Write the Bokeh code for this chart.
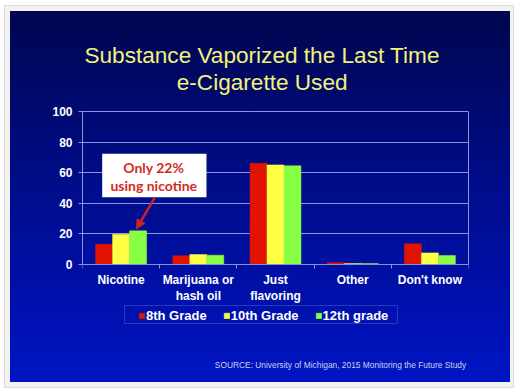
from bokeh.plotting import figure
from bokeh.models import (ColumnDataSource, Range1d, LinearAxis, FixedTicker, Legend, LegendItem,
                          Label, BoxAnnotation, Arrow, NormalHead)
from bokeh.transform import dodge
from bokeh.embed import file_html
from bokeh.resources import INLINE

# ---- data ----
categories = ["Nicotine", "Marijuana or\nhash oil", "Just\nflavoring", "Other", "Don't know"]
grade_8 = [13.2, 5.7, 66.2, 1.2, 13.5]
grade_10 = [19.8, 6.5, 65.1, 0.6, 7.6]
grade_12 = [22.0, 6.1, 64.5, 0.6, 5.9]
series_names = ["8th Grade", "10th Grade", "12th grade"]
y_ticks = [0, 20, 40, 60, 80, 100]
title_lines = ["Substance Vaporized the Last Time", "e-Cigarette Used"]
callout_lines = ["Only 22%", "using nicotine"]
source_text = "SOURCE: University  of Michigan, 2015 Monitoring the Future Study"

# ---- styles ----
series_colors = ["#e01400", "#ffff44", "#88ff44"]
grid_color = "#8c94dc"
FONT = "Liberation Sans"
TITLE_COLOR = "#f2f27a"

n = len(categories)
positions = [i + 0.5 for i in range(n)]
src = ColumnDataSource(dict(pos=positions, cat=categories, g8=grade_8, g10=grade_10, g12=grade_12))

# frame spans the whole slide height; the value axis is bounded to 0..100
p = figure(width=525, height=390,
           x_range=Range1d(0, n), y_range=Range1d(-82.35, 165.36),
           output_backend="svg", toolbar_location=None, x_axis_location=None,
           min_border_left=82, min_border_right=57, min_border_top=11, min_border_bottom=0)

p.background_fill_color = None
p.border_fill_color = None
p.outline_line_color = None
p.styles = {
    "background": (
        "linear-gradient(to bottom, #00064e 0%, #000c88 45%, #0014c4 100%) 10px 11px / 500px 371px no-repeat, "
        "linear-gradient(#f2f2f2, #f2f2f2) 5px 6px / 508px 381px no-repeat, "
        "linear-gradient(#dcdcdc, #dcdcdc) 4px 5px / 510px 383px no-repeat, "
        "#ffffff"
    ),
}

# bars
renderers = []
for field, off, col in zip(["g8", "g10", "g12"], [-0.22, 0.0, 0.22], series_colors):
    r = p.vbar(x=dodge("pos", off), top=field, width=0.22, source=src,
               fill_color=col, line_color=col, line_width=0.5)
    renderers.append(r)

# y axis
ya = p.yaxis[0]
ya.ticker = FixedTicker(ticks=y_ticks)
ya.bounds = (0, 100)
ya.axis_line_color = grid_color
ya.major_tick_line_color = grid_color
ya.major_tick_out = 4
ya.major_tick_in = 0
ya.minor_tick_line_color = None
ya.major_label_text_color = "white"
ya.major_label_text_font = FONT
ya.major_label_text_font_style = "bold"
ya.major_label_text_font_size = "12px"
ya.major_label_standoff = 6

# right border of the plot area
right_axis = LinearAxis(ticker=FixedTicker(ticks=[]), bounds=(0, 100),
                        axis_line_color=grid_color, major_tick_line_color=None,
                        minor_tick_line_color=None, major_label_text_font_size="0px")
p.add_layout(right_axis, "right")

p.xgrid.visible = False
p.ygrid.ticker = FixedTicker(ticks=y_ticks)
p.ygrid.grid_line_color = grid_color
p.ygrid.grid_line_width = 1

# x axis at value 0: boundary ticks + category labels
bounds = list(range(n + 1))
tick_axis = LinearAxis(ticker=FixedTicker(ticks=bounds), fixed_location=0,
                       major_label_overrides={b: "" for b in bounds},
                       major_label_text_font_size="0px", major_label_standoff=0,
                       major_tick_out=4, major_tick_in=0, minor_tick_line_color=None,
                       axis_line_color=grid_color, major_tick_line_color=grid_color)
p.add_layout(tick_axis, "below")
cat_axis = LinearAxis(ticker=FixedTicker(ticks=positions), fixed_location=0,
                      major_label_overrides={pos: c for pos, c in zip(positions, categories)},
                      axis_line_color=None, major_tick_line_color=None,
                      minor_tick_line_color=None, major_tick_out=0, major_tick_in=0,
                      major_label_text_color="white", major_label_text_font=FONT,
                      major_label_text_font_style="bold", major_label_text_font_size="12px",
                      major_label_standoff=8)
p.add_layout(cat_axis, "below")

# legend
legend = Legend(items=[LegendItem(label=nm, renderers=[r]) for nm, r in zip(series_names, renderers)],
                orientation="horizontal", location=(56, 67),
                border_line_color=None, background_fill_alpha=0,
                glyph_width=7, glyph_height=7, label_height=14, label_standoff=1,
                spacing=16, padding=2, margin=0,
                label_text_color="white", label_text_font=FONT,
                label_text_font_style="bold", label_text_font_size="13px")
p.add_layout(legend, "center")
p.add_layout(BoxAnnotation(left=0.544, right=4.08, bottom=-38.56, top=-26.8,
                           fill_color=None, line_color=grid_color, line_width=1))

# title
for txt, yy in zip(title_lines, [136.6, 118.95]):
    p.add_layout(Label(x=2.327, y=yy, text=txt, text_align="center", text_baseline="middle",
                       text_color=TITLE_COLOR, text_font=FONT, text_font_size="22.6px"))

# callout
p.add_layout(BoxAnnotation(left=0.255, right=1.606, bottom=44.0, top=72.4,
                           fill_color="white", fill_alpha=1, line_color=None))
for txt, yy in zip(callout_lines, [63.6, 51.6]):
    p.add_layout(Label(x=0.923, y=yy, text=txt, text_align="center", text_baseline="middle",
                       text_color="#d42a24", text_font="Lato", text_font_style="bold",
                       text_font_size="14px"))
p.add_layout(Arrow(x_start=0.937, y_start=43.8, x_end=0.70, y_end=23.3,
                   line_color="#c82424", line_width=2.5,
                   end=NormalHead(size=9, fill_color="#c82424", line_color="#c82424")))

# source note
p.add_layout(Label(x=5.0, y=-66.0, text=source_text, text_align="right", text_baseline="middle",
                   text_color="#ccd2ec", text_font=FONT, text_font_size="8.4px"))

open("out.html", "w").write(file_html(p, INLINE))
